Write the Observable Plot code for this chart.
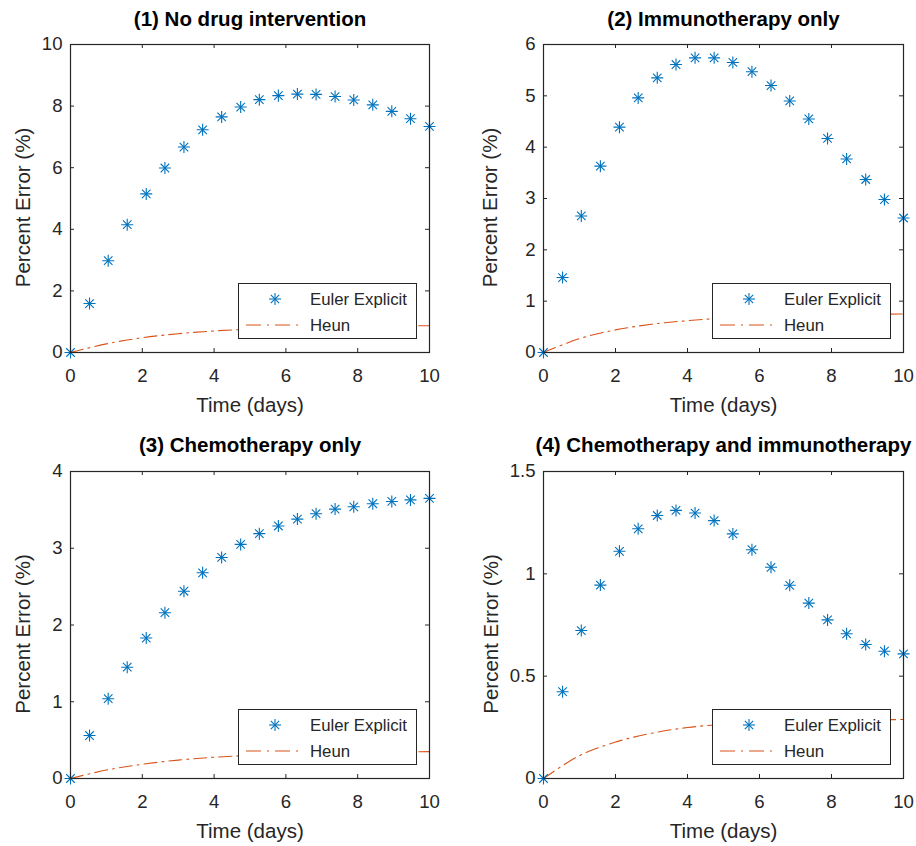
<!DOCTYPE html>
<html>
<head>
<meta charset="utf-8">
<script src="https://cdn.jsdelivr.net/npm/d3@7"></script>
<script src="https://cdn.jsdelivr.net/npm/@observablehq/plot@0.6"></script>
<style>
  html, body { margin: 0; padding: 0; background: #fff; }
  #root { position: relative; width: 916px; height: 846px; font-family: "Liberation Sans", Arial, Helvetica, sans-serif; }
  .panel { position: absolute; }
  .panel svg { overflow: visible; }
  .legend { position: absolute; }
</style>
</head>
<body>
<div id="root"></div>
<script>
// ---- data ----
const titles = ["(1) No drug intervention", "(2) Immunotherapy only", "(3) Chemotherapy only", "(4) Chemotherapy and immunotherapy"];
const xLabel = "Time (days)";
const yLabel = "Percent Error (%)";
const seriesNames = ["Euler Explicit", "Heun"];

const eulerDays = [0, 0.53, 1.05, 1.58, 2.11, 2.63, 3.16, 3.68, 4.21, 4.74, 5.26, 5.79, 6.32, 6.84, 7.37, 7.89, 8.42, 8.95, 9.47, 10];
const heunDays = [0, 1, 2, 3, 4, 5, 6, 7, 8, 9, 10];

const euler1 = [0, 1.59, 2.98, 4.15, 5.15, 5.99, 6.67, 7.23, 7.65, 7.97, 8.21, 8.34, 8.39, 8.38, 8.31, 8.20, 8.04, 7.83, 7.59, 7.34];
const euler2 = [0, 1.46, 2.66, 3.63, 4.39, 4.96, 5.35, 5.61, 5.74, 5.74, 5.65, 5.47, 5.20, 4.90, 4.55, 4.17, 3.77, 3.37, 2.98, 2.62];
const euler3 = [0, 0.56, 1.04, 1.45, 1.83, 2.16, 2.44, 2.68, 2.88, 3.05, 3.19, 3.29, 3.38, 3.45, 3.51, 3.54, 3.58, 3.61, 3.63, 3.65];
const euler4 = [0, 0.424, 0.723, 0.945, 1.11, 1.22, 1.285, 1.31, 1.297, 1.26, 1.195, 1.118, 1.032, 0.944, 0.857, 0.775, 0.707, 0.655, 0.622, 0.609];

const heun1 = [0, 0.28, 0.48, 0.61, 0.70, 0.76, 0.80, 0.83, 0.85, 0.86, 0.87];
const heun2 = [0, 0.27, 0.44, 0.55, 0.62, 0.67, 0.70, 0.72, 0.735, 0.745, 0.75];
const heun3 = [0, 0.11, 0.185, 0.24, 0.277, 0.302, 0.318, 0.33, 0.338, 0.345, 0.35];
const heun4 = [0, 0.112, 0.178, 0.221, 0.249, 0.265, 0.275, 0.281, 0.285, 0.287, 0.288];

const xTicks = [0, 2, 4, 6, 8, 10];
const yTicks1 = [0, 2, 4, 6, 8, 10];
const yTicks2 = [0, 1, 2, 3, 4, 5, 6];
const yTicks3 = [0, 1, 2, 3, 4];
const yTicks4 = [0, 0.5, 1, 1.5];

// ---- style / layout ----
const BLUE = "#0072BD";
const ORANGE = "#D95319";
const AXIS = "#262626";
const FONT = "'Liberation Sans', Arial, Helvetica, sans-serif";
const DASH = "13,5,2,5";

const panels = [
  {title: titles[0], euler: euler1, heun: heun1, yTicks: yTicks1, left: 0,   top: 0,   width: 458, height: 420, ml: 70, mr: 29, mt: 44, mb: 68, ylab: 47, tdy: -25},
  {title: titles[1], euler: euler2, heun: heun2, yTicks: yTicks2, left: 458, top: 0,   width: 458, height: 420, ml: 85, mr: 13, mt: 44, mb: 68, ylab: 53, tdy: -25},
  {title: titles[2], euler: euler3, heun: heun3, yTicks: yTicks3, left: 0,   top: 420, width: 458, height: 426, ml: 70, mr: 29, mt: 51, mb: 68, ylab: 47, tdy: -26},
  {title: titles[3], euler: euler4, heun: heun4, yTicks: yTicks4, left: 458, top: 420, width: 458, height: 426, ml: 85, mr: 13, mt: 51, mb: 68, ylab: 52, tdy: -26}
];

const root = document.getElementById("root");

for (const p of panels) {
  const W = p.width - p.ml - p.mr;
  const H = p.height - p.mt - p.mb;
  const yMax = p.yTicks[p.yTicks.length - 1];
  const eData = eulerDays.map((d, i) => ({x: d, y: p.euler[i]}));
  const hData = heunDays.map((d, i) => ({x: d, y: p.heun[i]}));
  const tick = 4;

  const chart = Plot.plot({
    width: p.width,
    height: p.height,
    marginLeft: p.ml,
    marginRight: p.mr,
    marginTop: p.mt,
    marginBottom: p.mb,
    style: {fontFamily: FONT, background: "white", color: AXIS, overflow: "visible"},
    x: {domain: [0, 10], axis: null},
    y: {domain: [0, yMax], axis: null},
    marks: [
      Plot.line(hData, {x: "x", y: "y", stroke: ORANGE, strokeWidth: 1.1, strokeDasharray: DASH, curve: "catmull-rom"}),
      Plot.dot(eData, {x: "x", y: "y", symbol: "plus", r: 3.95, stroke: BLUE, strokeWidth: 1.1}),
      Plot.dot(eData, {x: "x", y: "y", symbol: "times", r: 3.95, stroke: BLUE, strokeWidth: 1.1}),
      // inward ticks on all four sides
      Plot.tickX(xTicks, {x: d => d, insetTop: H - tick, stroke: AXIS, strokeWidth: 1}),
      Plot.tickX(xTicks, {x: d => d, insetBottom: H - tick, stroke: AXIS, strokeWidth: 1}),
      Plot.tickY(p.yTicks, {y: d => d, insetRight: W - tick, stroke: AXIS, strokeWidth: 1}),
      Plot.tickY(p.yTicks, {y: d => d, insetLeft: W - tick, stroke: AXIS, strokeWidth: 1}),
      Plot.frame({stroke: AXIS, strokeWidth: 1.2}),
      Plot.axisX({ticks: xTicks, tickSize: 0, tickPadding: 16, fontSize: 18.6, label: null, tickFormat: d => String(d), fill: AXIS}),
      Plot.axisY({ticks: p.yTicks, tickSize: 0, tickPadding: 8, fontSize: 18.6, label: null, tickFormat: d => String(d), fill: AXIS}),
      Plot.text([p.title], {frameAnchor: "top", lineAnchor: "middle", dy: p.tdy, fontSize: 20.5, fontWeight: "bold", fill: "#000"}),
      Plot.text([xLabel], {frameAnchor: "bottom", lineAnchor: "middle", dy: 53, fontSize: 20.5, fill: AXIS}),
      Plot.text([yLabel], {frameAnchor: "left", textAnchor: "middle", lineAnchor: "middle", dx: -p.ylab, dy: 9, rotate: -90, fontSize: 20.5, fill: AXIS})
    ]
  });

  const wrap = document.createElement("div");
  wrap.className = "panel";
  wrap.style.left = p.left + "px";
  wrap.style.top = p.top + "px";
  wrap.style.width = p.width + "px";
  wrap.style.height = p.height + "px";
  wrap.appendChild(chart);

  // legend box (inside the axes, bottom-right)
  const LW = 179, LH = 56;
  const lx = p.width - p.mr - 12 - LW;
  const ly = p.height - p.mb - 13 - LH;
  const legend = document.createElement("div");
  legend.className = "legend";
  legend.style.left = lx + "px";
  legend.style.top = ly + "px";
  const ns = "http://www.w3.org/2000/svg";
  const svg = document.createElementNS(ns, "svg");
  svg.setAttribute("width", LW);
  svg.setAttribute("height", LH);
  svg.style.overflow = "visible";
  svg.innerHTML = `
    <rect x="0.5" y="0.5" width="${LW - 1}" height="${LH - 1}" fill="white" stroke="${AXIS}" stroke-width="1"/>
    <g stroke="${BLUE}" stroke-width="1.1">
      <line x1="37" y1="10" x2="37" y2="22"/>
      <line x1="31" y1="16" x2="43" y2="16"/>
      <line x1="32.8" y1="11.8" x2="41.2" y2="20.2"/>
      <line x1="32.8" y1="20.2" x2="41.2" y2="11.8"/>
    </g>
    <line x1="8" y1="42" x2="64" y2="42" stroke="${ORANGE}" stroke-width="1.1" stroke-dasharray="15,6,2,6"/>
    <text x="72" y="16" dy="0.35em" font-family="${FONT}" font-size="16.8" fill="${AXIS}">${seriesNames[0]}</text>
    <text x="72" y="42" dy="0.35em" font-family="${FONT}" font-size="16.8" fill="${AXIS}">${seriesNames[1]}</text>
  `;
  legend.appendChild(svg);
  wrap.appendChild(legend);
  root.appendChild(wrap);
}
</script>
</body>
</html>
